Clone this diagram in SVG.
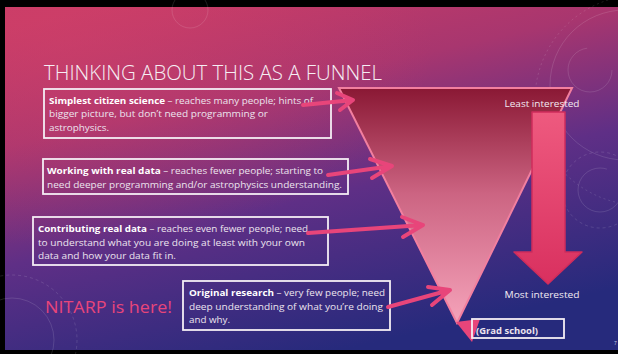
<svg xmlns="http://www.w3.org/2000/svg" width="618" height="354" viewBox="0 0 618 354">
  <defs>
    <linearGradient id="bg" x1="0.15" y1="0" x2="0.55" y2="1">
      <stop offset="0" stop-color="#c93c66"/>
      <stop offset="0.3" stop-color="#a8366f"/>
      <stop offset="0.6" stop-color="#5f2f86"/>
      <stop offset="1" stop-color="#262a7c"/>
    </linearGradient>
    <radialGradient id="glow" cx="0.1" cy="0.1" r="0.6">
      <stop offset="0" stop-color="#d0406a" stop-opacity="0.5"/>
      <stop offset="1" stop-color="#d0406a" stop-opacity="0"/>
    </radialGradient>
    <linearGradient id="funnelFill" x1="0" y1="0" x2="0" y2="1">
      <stop offset="0" stop-color="#8a1834"/>
      <stop offset="0.45" stop-color="#cc6482"/>
      <stop offset="1" stop-color="#f5a3ba"/>
    </linearGradient>
    <linearGradient id="arrowFill" x1="0" y1="0" x2="0" y2="1">
      <stop offset="0" stop-color="#ee5a7f"/>
      <stop offset="1" stop-color="#d9305f"/>
    </linearGradient>
  </defs>
  <style>
    .box { fill: none; stroke: #f4eef4; stroke-width: 1.8; }
    .txt { font-family: "Open Sans", "Noto Sans", "Liberation Sans", sans-serif; font-size: 9.2px; fill: #ece4ee; }
    .txt tspan.b { font-weight: bold; fill: #ffffff; }
    .lbl { font-family: "Open Sans", "Noto Sans", "Liberation Sans", sans-serif; font-size: 9.2px; fill: #f2eaf2; }
    .deco { fill: none; stroke: #ffffff; stroke-opacity: 0.12; stroke-width: 1; }
    .conn { fill: none; stroke: #e8457a; stroke-width: 4; stroke-linecap: round; stroke-linejoin: round; }
  </style>

  <!-- frame and background -->
  <rect x="0" y="0" width="618" height="354" fill="#000000"/>
  <rect x="5" y="7" width="613" height="343" fill="url(#bg)"/>
  <rect x="5" y="7" width="613" height="343" fill="url(#glow)"/>

  <!-- faint ornamental rings -->
  <g id="ornaments">
    <circle cx="590" cy="70" r="22" class="deco" stroke-dasharray="100 40"/>
    <circle cx="625" cy="85" r="75" class="deco"/>
    <circle cx="640" cy="100" r="105" class="deco" stroke-dasharray="2 3"/>
    <circle cx="600" cy="190" r="22" class="deco" stroke-dasharray="110 30"/>
    <circle cx="600" cy="190" r="38" class="deco" stroke-dasharray="3 3"/>
    <circle cx="12" cy="340" r="42" class="deco"/>
    <circle cx="12" cy="340" r="65" class="deco" stroke-dasharray="3 3"/>
    <circle cx="190" cy="10" r="18" class="deco"/>
  </g>

  <!-- title -->
  <text x="44" y="80" font-family="'Open Sans', Lato, 'Liberation Sans', sans-serif" font-weight="300" font-size="20" fill="#f6eef4" textLength="338" lengthAdjust="spacingAndGlyphs">THINKING ABOUT THIS AS A FUNNEL</text>

  <!-- funnel -->
  <g id="funnel">
    <polygon points="339,88 572,88 457,323" fill="url(#funnelFill)" stroke="#f27f9f" stroke-width="2" stroke-linejoin="miter"/>
  </g>

  <!-- interest scale -->
  <g id="interest-arrow">
    <polygon points="532,112 565,112 565,252 582,252 548,284 514,252 532,252" fill="url(#arrowFill)" stroke="#d02c5c" stroke-width="1.5" stroke-linejoin="round"/>
  </g>
  <g id="label-least">
    <text class="lbl" x="542" y="107" text-anchor="middle" textLength="75" lengthAdjust="spacingAndGlyphs">Least interested</text>
  </g>
  <g id="label-most">
    <text class="lbl" x="542" y="298" text-anchor="middle" textLength="75" lengthAdjust="spacingAndGlyphs">Most interested</text>
  </g>

  <!-- levels -->
  <g id="level-citizen-science">
    <rect class="box" x="44" y="89" width="287" height="49"/>
    <text class="txt" x="49" y="104" textLength="264" lengthAdjust="spacingAndGlyphs"><tspan class="b">Simplest citizen science</tspan> – reaches many people; hints of</text>
    <text class="txt" x="49" y="117" textLength="219" lengthAdjust="spacingAndGlyphs">bigger picture, but don’t need programming or</text>
    <text class="txt" x="49" y="131" textLength="60" lengthAdjust="spacingAndGlyphs">astrophysics.</text>
  </g>

  <g id="level-real-data">
    <rect class="box" x="43" y="159" width="305" height="35"/>
    <text class="txt" x="47" y="174" textLength="276" lengthAdjust="spacingAndGlyphs"><tspan class="b">Working with real data</tspan> – reaches fewer people; starting to</text>
    <text class="txt" x="47" y="188" textLength="295" lengthAdjust="spacingAndGlyphs">need deeper programming and/or astrophysics understanding.</text>
  </g>

  <g id="level-contributing">
    <rect class="box" x="33" y="217" width="295" height="48"/>
    <text class="txt" x="38" y="232" textLength="270" lengthAdjust="spacingAndGlyphs"><tspan class="b">Contributing real data</tspan> – reaches even fewer people; need</text>
    <text class="txt" x="38" y="246" textLength="267" lengthAdjust="spacingAndGlyphs">to understand what you are doing at least with your own</text>
    <text class="txt" x="38" y="259" textLength="138" lengthAdjust="spacingAndGlyphs">data and how your data fit in.</text>
  </g>

  <g id="level-research">
    <rect class="box" x="183" y="281" width="207" height="49"/>
    <text class="txt" x="189" y="296" textLength="196" lengthAdjust="spacingAndGlyphs"><tspan class="b">Original research</tspan> – very few people; need</text>
    <text class="txt" x="189" y="310" textLength="194" lengthAdjust="spacingAndGlyphs">deep understanding of what you’re doing</text>
    <text class="txt" x="189" y="323" textLength="41" lengthAdjust="spacingAndGlyphs">and why.</text>
  </g>

  <g id="nitarp">
    <text x="45" y="313" font-family="'Open Sans', 'Noto Sans', 'Liberation Sans', sans-serif" font-size="17" fill="#e8457a" textLength="127" lengthAdjust="spacingAndGlyphs">NITARP is here!</text>
  </g>

  <g id="grad-school">
    <polygon points="456,322 480,319 472,342" fill="#e8457a"/>
    <rect class="box" x="472" y="319" width="92" height="19"/>
    <text class="txt" x="476" y="334" font-weight="bold" fill="#ffffff" textLength="62" lengthAdjust="spacingAndGlyphs">(Grad school)</text>
  </g>

  <!-- connectors from each level into the funnel -->
  <g id="connectors">
    <path class="conn" d="M303,105 L353,100 M337,93 L353,100 L340,110"/>
    <path class="conn" d="M328,175 L392,166 M370,159 L392,166 L372,178"/>
    <path class="conn" d="M308,233 L423,225 M402,217 L423,225 L403,237"/>
    <path class="conn" d="M388,307 L450,290 M428,287 L450,290 L432,305"/>
  </g>

  <text x="614" y="345" font-family="'Liberation Sans', sans-serif" font-size="5" fill="#c8c8e0">7</text>
</svg>
